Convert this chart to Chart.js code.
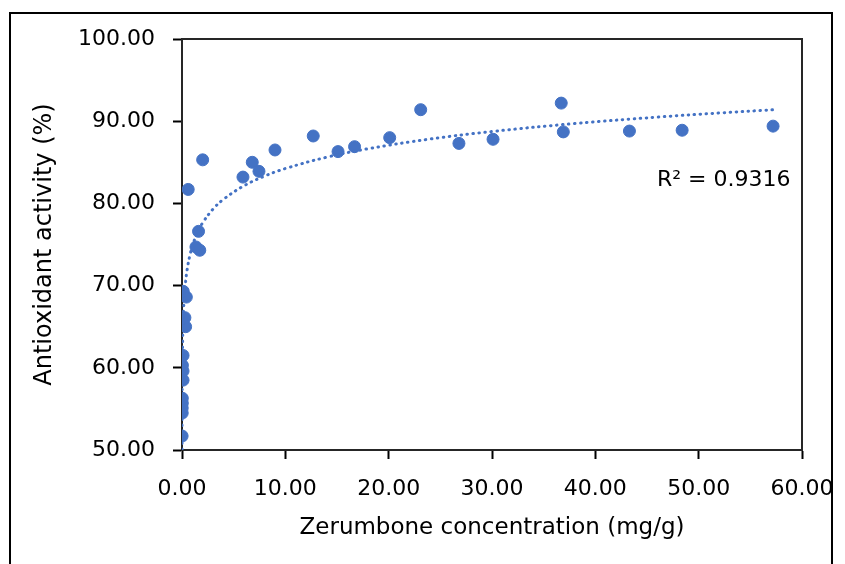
<!DOCTYPE html>
<html>
<head>
<meta charset="utf-8">
<script src="https://cdn.jsdelivr.net/npm/chart.js@4.4.1/dist/chart.umd.min.js"></script>
<style>
  html, body { margin: 0; padding: 0; background: #fff; }
  #wrap { position: relative; width: 845px; height: 564px; overflow: hidden; }
  #frame { position: absolute; left: 9px; top: 12px; width: 824px; height: 600px; border: 2px solid #000; box-sizing: border-box; }
  #r2 { position: absolute; left: 657px; top: 166px; font: 22px "DejaVu Sans", sans-serif; color: #000; white-space: nowrap; }
  canvas { position: absolute; left: 0; top: 0; }
</style>
</head>
<body>
<div id="wrap">
  <div id="frame"></div>
  <canvas id="chart" width="845" height="564"></canvas>
  <div id="r2">R² = 0.9316</div>
</div>
<script>
// Zerumbone concentration (mg/g)
const concentration = [
  0.01, 0.02, 0.02, 0.03, 0.03, 0.10, 0.10, 0.04, 0.10,
  0.35, 0.28, 0.42, 0.12, 0.60, 1.60, 1.35, 1.72, 2.00,
  5.9, 6.8, 7.45, 9.0, 12.7, 15.1, 16.7, 20.1, 23.1,
  26.8, 30.1, 36.7, 36.9, 43.3, 48.4, 57.2
];
// Antioxidant activity (%)
const activity = [
  51.7, 54.5, 55.1, 55.7, 56.3, 58.5, 59.6, 60.3, 61.5,
  65.0, 66.1, 68.6, 69.3, 81.7, 76.6, 74.7, 74.3, 85.3,
  83.2, 85.0, 83.9, 86.5, 88.2, 86.3, 86.9, 88.0, 91.4,
  87.3, 87.8, 92.2, 88.7, 88.8, 88.9, 89.4
];

// logarithmic trend line y = a ln(x) + b
const trendA = 4.1;
const trendB = 74.8;
const trendX = [0.002, 0.004, 0.008, 0.015, 0.03, 0.06, 0.1, 0.2, 0.35, 0.5, 0.75, 1, 1.5,
  2, 3, 4, 6, 8, 10, 14, 18, 24, 30, 38, 46, 52, 57.2];

const xTicks = [0, 10, 20, 30, 40, 50, 60];
const yTicks = [50, 60, 70, 80, 90, 100];

const blue = '#4472C4';
const textColor = '#000';
const font = 'DejaVu Sans';

const points = concentration.map((x, i) => ({ x: x, y: activity[i] }));
const trend = trendX.map(x => ({ x: x, y: trendA * Math.log(x) + trendB }));

// caixa do gráfico (topo e direita)
const boxPlugin = {
    id: 'box',
    beforeDatasetsDraw(chart) {
        const a = chart.chartArea;
        const ctx = chart.ctx;
        ctx.save();
        ctx.strokeStyle = '#262626';
        ctx.lineWidth = 2;
        ctx.strokeRect(a.left, a.top, a.right - a.left, a.bottom - a.top);
        ctx.restore();
    }
};

new Chart(document.getElementById('chart').getContext('2d'), {
    type: 'scatter',
    data: {
        datasets: [
            {
                type: 'line',
                data: trend,
                borderColor: blue,
                borderWidth: 3,
                borderDash: [0.5, 5.5],
                borderCapStyle: 'round',
                pointRadius: 0,
                tension: 0.4,
                fill: false
            },
            {
                data: points,
                backgroundColor: blue,
                borderColor: blue,
                pointRadius: 6,
                pointHoverRadius: 6
            }
        ]
    },
    options: {
        responsive: false,
        animation: false,
        layout: { padding: { left: 0, top: 39, right: 43, bottom: 0 } },
        plugins: {
            legend: { display: false },
            tooltip: { enabled: false }
        },
        scales: {
            x: {
                type: 'linear',
                min: 0,
                max: 60,
                afterBuildTicks: s => { s.ticks = xTicks.map(v => ({ value: v })); },
                afterFit: s => { s.height = 114; s.paddingLeft = 0; s.paddingRight = 0; },
                ticks: {
                    padding: 17,
                    color: textColor,
                    font: { family: font, size: 22 },
                    maxRotation: 0,
                    callback: v => v.toFixed(2)
                },
                grid: { drawOnChartArea: false, tickLength: 9, color: '#000', tickWidth: 2 },
                border: { color: '#000', width: 2 },
                title: {
                    display: true,
                    text: 'Zerumbone concentration (mg/g)',
                    color: textColor,
                    font: { family: font, size: 23 },
                    padding: { top: 0, bottom: 22 }
                }
            },
            y: {
                type: 'linear',
                min: 50,
                max: 100,
                afterBuildTicks: s => { s.ticks = yTicks.map(v => ({ value: v })); },
                afterFit: s => { s.width = 182; s.paddingTop = 0; s.paddingBottom = 0; },
                ticks: {
                    padding: 18,
                    color: textColor,
                    font: { family: font, size: 22 },
                    callback: v => v.toFixed(2)
                },
                grid: { drawOnChartArea: false, tickLength: 9, color: '#000', tickWidth: 2 },
                border: { color: '#000', width: 2 },
                title: {
                    display: true,
                    text: 'Antioxidant activity (%)',
                    color: textColor,
                    font: { family: font, size: 24 },
                    padding: { top: 30, bottom: 0 }
                }
            }
        }
    },
    plugins: [boxPlugin]
});
</script>
</body>
</html>
